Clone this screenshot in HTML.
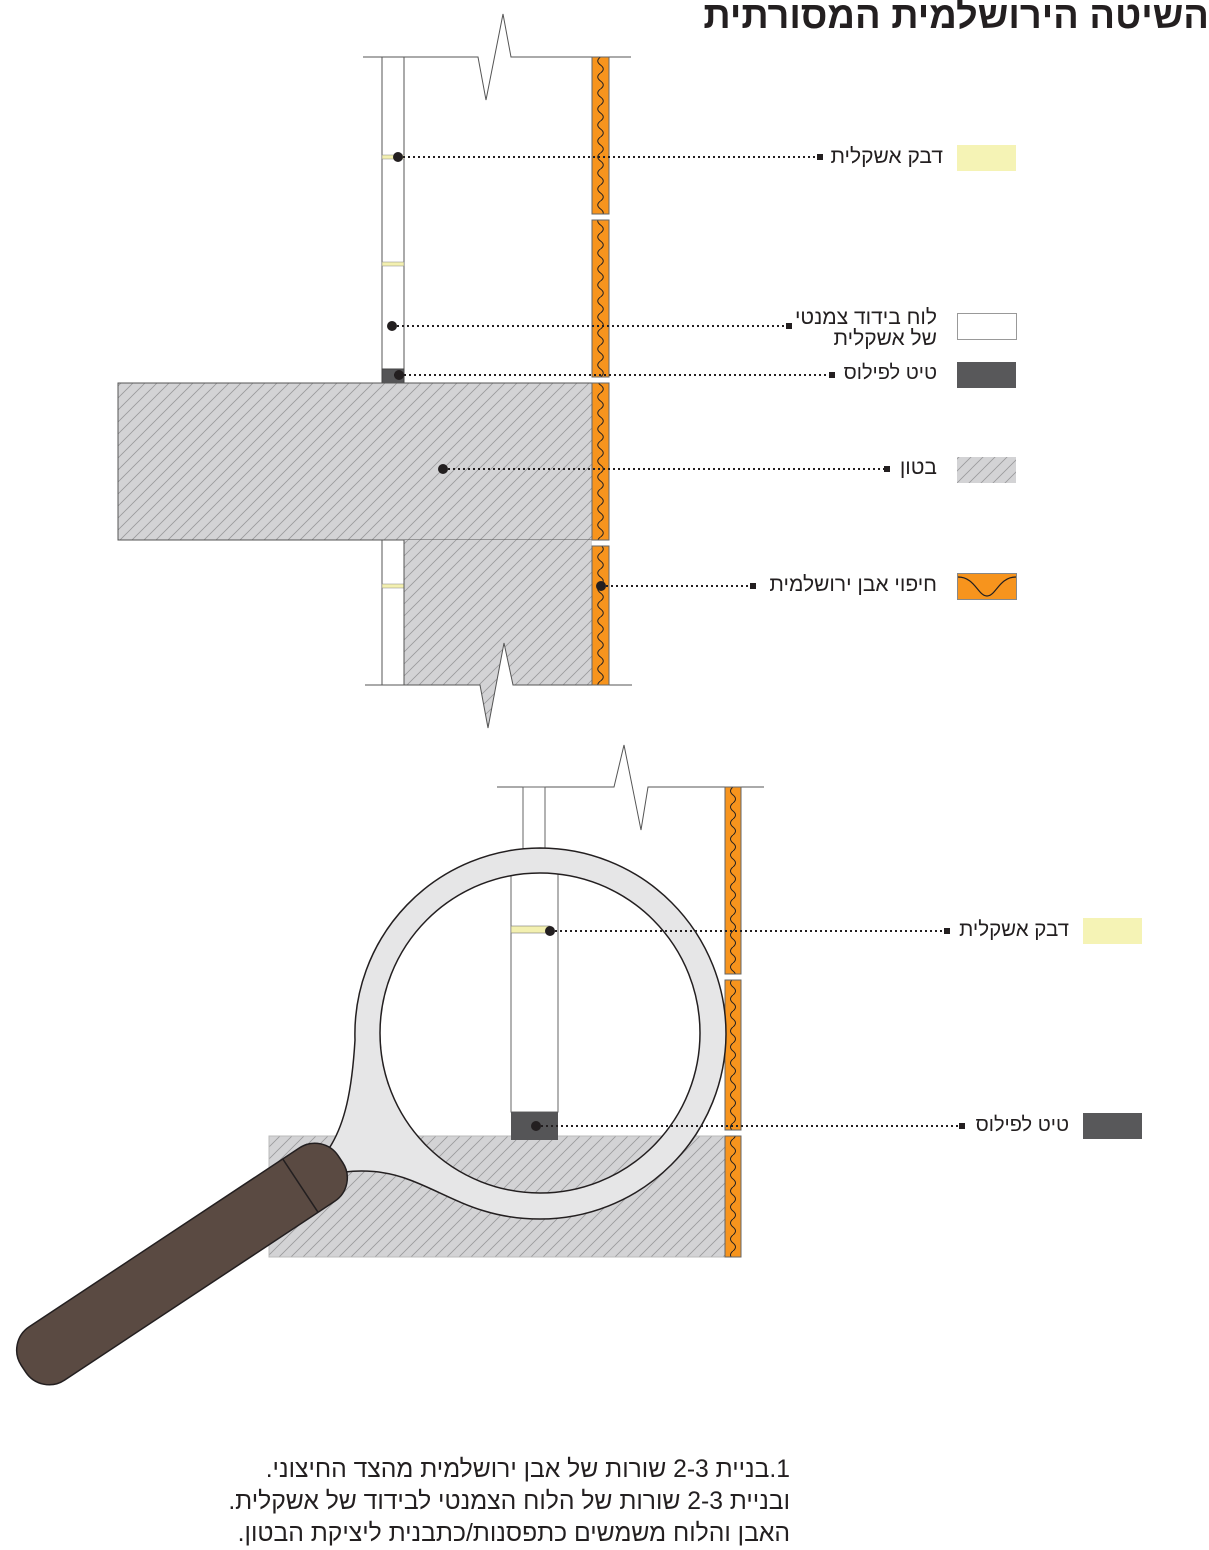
<!DOCTYPE html>
<html><head><meta charset="utf-8">
<style>
body{margin:0;width:1209px;height:1547px;background:#fff;position:relative;overflow:hidden;font-family:"Liberation Sans","Noto Sans CJK SC",sans-serif;}
svg{position:absolute;left:0;top:0}
.t{position:absolute;color:#231f20;white-space:nowrap}
.r{direction:rtl;text-align:right}
.note{position:absolute;right:419px;direction:rtl;text-align:right;font-size:24.7px;color:#231f20;white-space:nowrap;line-height:32px}
</style></head><body>
<svg width="1209" height="1547" viewBox="0 0 1209 1547">
<defs>
<pattern id="h" patternUnits="userSpaceOnUse" width="12" height="12">
<rect width="12" height="12" fill="#d3d3d5"/>
<path d="M-3 3 L3 -3 M0 12 L12 0 M9 15 L15 9" stroke="#9a9a9c" stroke-width="0.8"/>
</pattern>
<pattern id="w1" patternUnits="userSpaceOnUse" x="592" y="57" width="17" height="16">
<rect width="17" height="16" fill="#f7941d"/>
<path d="M8.5 0 Q3 4 8.5 8 Q14 12 8.5 16" fill="none" stroke="#231f20" stroke-width="1"/>
</pattern>
<pattern id="w2" patternUnits="userSpaceOnUse" x="725" y="787" width="16" height="16">
<rect width="16" height="16" fill="#f7941d"/>
<path d="M8 0 Q3 4 8 8 Q13 12 8 16" fill="none" stroke="#231f20" stroke-width="1"/>
</pattern>
</defs>
<polyline points="363,57 478,57 486,100 503,14 511,57 631,57" fill="none" stroke="#555" stroke-width="1"/>
<rect x="382" y="57" width="22" height="326" fill="#fff" stroke="#555" stroke-width="1"/>
<rect x="382" y="155" width="22" height="4" fill="#f3f0b0" stroke="#888" stroke-width="0.5"/>
<rect x="382" y="262" width="22" height="4" fill="#f3f0b0" stroke="#888" stroke-width="0.5"/>
<rect x="382" y="369" width="22" height="14" fill="#555557" stroke="#444" stroke-width="1"/>
<rect x="118" y="383" width="474" height="157" fill="url(#h)" stroke="#555" stroke-width="1"/>
<rect x="382" y="540" width="22" height="145" fill="#fff" stroke="#555" stroke-width="1"/>
<rect x="382" y="584" width="22" height="4" fill="#f3f0b0" stroke="#888" stroke-width="0.5"/>
<polygon points="404,540 592,540 592,685 513,685 504,643 488,728 480,685 404,685" fill="url(#h)" stroke="none"/>
<polyline points="404,540 404,685" stroke="#555" fill="none"/>
<polyline points="365,685 480,685 488,728 504,643 513,685 632,685" fill="none" stroke="#555" stroke-width="1"/>
<g stroke="#666" stroke-width="1" fill="url(#w1)">
<rect x="592" y="57" width="17" height="157"/>
<rect x="592" y="220" width="17" height="157"/>
<rect x="592" y="383" width="17" height="157"/>
<rect x="592" y="546" width="17" height="139"/>
</g>
<g stroke="#231f20" stroke-width="2" stroke-dasharray="2 3" fill="none">
<line x1="398" y1="157" x2="818" y2="157"/>
<line x1="392" y1="326" x2="787" y2="326"/>
<line x1="394" y1="375" x2="829" y2="375"/>
<line x1="443" y1="469" x2="884" y2="469"/>
<line x1="601" y1="586" x2="750" y2="586"/>
</g>
<g fill="#231f20">
<circle cx="398" cy="157" r="5"/><circle cx="392" cy="326" r="5"/><circle cx="399" cy="375" r="5"/><circle cx="443" cy="469" r="5"/><circle cx="601" cy="586" r="5"/>
<rect x="817" y="154" width="6" height="6"/><rect x="786" y="323" width="6" height="6"/><rect x="829" y="372" width="6" height="6"/><rect x="884" y="466" width="6" height="6"/><rect x="750" y="583" width="6" height="6"/>
</g>
<rect x="957" y="145" width="59" height="26" fill="#f5f3b5"/>
<rect x="957.5" y="313.5" width="59" height="26" fill="#fff" stroke="#999"/>
<rect x="957" y="362" width="59" height="26" fill="#58585a"/>
<rect x="957" y="457" width="59" height="26" fill="url(#h)"/>
<rect x="957.5" y="573.5" width="59" height="26" fill="#f7941d" stroke="#888"/>
<path d="M958 577 C975 577 978 596 987 596 C996 596 999 577 1016 577" fill="none" stroke="#231f20" stroke-width="1.2"/>
<polyline points="497,787 614,787 624,745 641,830 648,787 764,787" fill="none" stroke="#555" stroke-width="1"/>
<rect x="523" y="787" width="22" height="80" fill="#fff" stroke="#666" stroke-width="1"/>
<rect x="269" y="1136" width="456" height="121" fill="url(#h)" stroke="#bbb" stroke-width="1"/>
<g stroke="#666" stroke-width="1" fill="url(#w2)">
<rect x="725" y="787" width="16" height="187"/>
<rect x="725" y="980" width="16" height="150"/>
<rect x="725" y="1136" width="16" height="121"/>
</g>
<rect x="511" y="850" width="47" height="262" fill="#fff" stroke="#666" stroke-width="1"/>
<rect x="511" y="926" width="39" height="7" fill="#f3f0b0" stroke="#777" stroke-width="0.6"/>
<rect x="511" y="1112" width="47" height="28" fill="#555557"/>
<path fill-rule="evenodd" fill="#e6e6e7" stroke="#231f20" stroke-width="1.5" d="M540 848 A186 186 0 0 1 726 1034 A186 186 0 0 1 540 1219 C480 1219 450 1195 410 1180 C385 1170 360 1170 345 1172 L328 1150 C345 1125 352 1090 355 1040 A186 186 0 0 1 540 848 Z M700 1033 A160 160 0 1 0 380 1033 A160 160 0 1 0 700 1033 Z"/>
<g transform="translate(182,1264) rotate(-33.5)">
<rect x="-190" y="-32" width="380" height="64" rx="28" fill="#5a4a42" stroke="#231f20" stroke-width="1.5"/>
<line x1="142" y1="-32" x2="142" y2="32" stroke="#231f20" stroke-width="1.5"/>
</g>
<g stroke="#231f20" stroke-width="2" stroke-dasharray="2 3" fill="none">
<line x1="550" y1="931" x2="943" y2="931"/>
<line x1="536" y1="1126" x2="958" y2="1126"/>
</g>
<g fill="#231f20">
<circle cx="550" cy="931" r="5"/><circle cx="536" cy="1126" r="5"/>
<rect x="944" y="928" width="6" height="6"/><rect x="959" y="1123" width="6" height="6"/>
</g>
<rect x="1083" y="918" width="59" height="26" fill="#f5f3b5"/>
<rect x="1083" y="1113" width="59" height="26" fill="#58585a"/>
</svg>
<div class="t r" style="right:0;top:-5px;font-size:38px;font-weight:bold;">השיטה הירושלמית המסורתית</div>
<div class="t r" style="right:266px;top:145px;font-size:21px;">דבק אשקלית</div>
<div class="t r" style="right:272px;top:307px;font-size:21px;line-height:21px;">לוח בידוד צמנטי<br>של אשקלית</div>
<div class="t r" style="right:272px;top:362px;font-size:20px;">טיט לפילוס</div>
<div class="t r" style="right:272px;top:456px;font-size:21px;">בטון</div>
<div class="t r" style="right:272px;top:573px;font-size:21px;">חיפוי אבן ירושלמית</div>
<div class="t r" style="right:140px;top:918px;font-size:20.5px;">דבק אשקלית</div>
<div class="t r" style="right:140px;top:1114px;font-size:20px;">טיט לפילוס</div>
<div class="note" style="top:1454px;">1.בניית 2-3 שורות של אבן ירושלמית מהצד החיצוני.</div>
<div class="note" style="top:1486px;">ובניית 2-3 שורות של הלוח הצמנטי לבידוד של אשקלית.</div>
<div class="note" style="top:1518px;">האבן והלוח משמשים כתפסנות/כתבנית ליציקת הבטון.</div>
</body></html>
